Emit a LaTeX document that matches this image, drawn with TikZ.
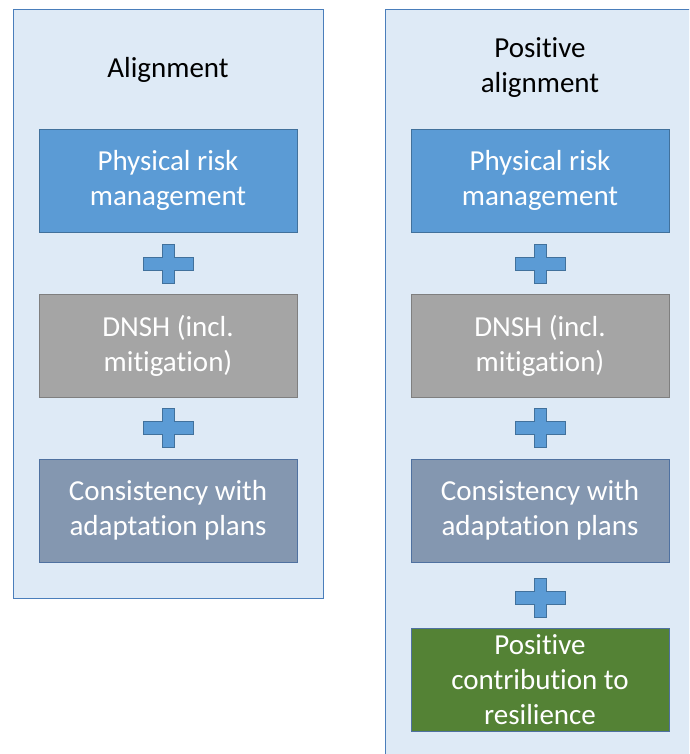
\documentclass[tikz,border=0pt]{standalone}
\usepackage{fontspec}
\setmainfont{Carlito}[Ligatures=NoCommon]
\usetikzlibrary{positioning}

\definecolor{panelfill}{HTML}{DEEAF6}
\definecolor{panelline}{HTML}{4A7EBB}
\definecolor{riskfill}{HTML}{5B9BD5}
\definecolor{riskline}{HTML}{41719C}
\definecolor{dnshfill}{HTML}{A5A5A5}
\definecolor{dnshline}{HTML}{7F7F7F}
\definecolor{planfill}{HTML}{8497B0}
\definecolor{planline}{HTML}{4F71A0}
\definecolor{resfill}{HTML}{548235}

\tikzset{
  panel/.style={draw=panelline, fill=panelfill, line width=0.8pt},
  box/.style={draw, line width=0.8pt, minimum width=258pt, minimum height=103pt,
    inner sep=0pt, align=center, text=white, font=\fontsize{29}{35}\selectfont},
  title/.style={align=center, text=black, font=\fontsize{29}{35}\selectfont},
  plusline/.style={draw=riskline, fill=riskfill, line width=0.8pt},
  plussign/.pic={
    \draw [plusline] (-6,-19.5) -- (6,-19.5) -- (6,-6.5) -- (25,-6.5) -- (25,6.5)
      -- (6,6.5) -- (6,19.5) -- (-6,19.5) -- (-6,6.5) -- (-25,6.5) -- (-25,-6.5)
      -- (-6,-6.5) -- cycle;
  }
}

\begin{document}
\begin{tikzpicture}[x=1pt, y=-1pt]
	\useasboundingbox (0,0) rectangle (689,754);
	\clip (0,0) rectangle (689,754);

	% panels
	\draw [panel] (13,9) rectangle (323,598);
	\draw [panel] (385,9) rectangle (695,770);

	\node [title] (alignL) at (168,70) {Alignment};
	\node [title] (alignR) at (540,67.5) {Positive\\alignment};

	% left column
	\node [box, fill=riskfill, draw=riskline] (riskL) at (168,180.5) {Physical risk\\management};
	\node [box, fill=dnshfill, draw=dnshline] (dnshL) at (168,345.5) {DNSH (incl.\\mitigation)};
	\node [box, fill=planfill, draw=planline] (planL) at (168,510.5) {Consistency with\\adaptation plans};

	% right column
	\node [box, fill=riskfill, draw=riskline] (riskR) at (540,180.5) {Physical risk\\management};
	\node [box, fill=dnshfill, draw=dnshline] (dnshR) at (540,345.5) {DNSH (incl.\\mitigation)};
	\node [box, fill=planfill, draw=planline] (planR) at (540,510.5) {Consistency with\\adaptation plans};
	\node [box, fill=resfill, draw=planline] (resR) at (540,680) {Positive\\contribution to\\resilience};

	% plus signs
	\pic at (168,263.5) {plussign};
	\pic at (168,427.5) {plussign};
	\pic at (540,263.5) {plussign};
	\pic at (540,427.5) {plussign};
	\pic at (540,597.5) {plussign};
\end{tikzpicture}
\end{document}
